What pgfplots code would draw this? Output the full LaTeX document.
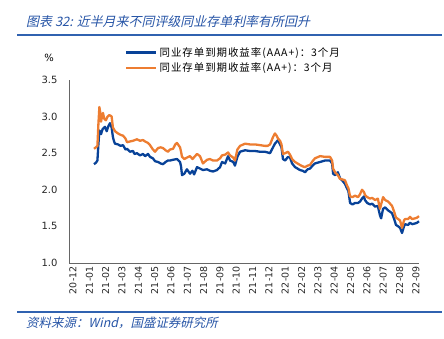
\documentclass[border=0pt]{standalone}
\usepackage{pgfplots}
\pgfplotsset{compat=1.18}
\usepackage{fontspec}
\setmainfont{DejaVu Sans}
\newfontfamily\cjk[LetterSpace=9]{Noto Sans CJK SC}
\newfontfamily\cjkit[FakeSlant=0.22]{Noto Sans CJK SC}
\newfontfamily\tickfont{DejaVu Sans}
\definecolor{sblue}{RGB}{8,66,152}
\definecolor{sorange}{RGB}{237,125,49}
\definecolor{tblue}{RGB}{38,84,166}
\definecolor{rblue}{RGB}{48,98,176}
\pgfplotstableread{
x y
1.47 2.35
1.59 2.37
1.68 2.40
1.74 2.62
1.80 2.81
1.90 2.76
2.00 2.83
2.14 2.86
2.25 2.80
2.35 2.87
2.45 2.91
2.55 2.85
2.63 2.72
2.70 2.66
2.76 2.63
2.94 2.62
3.10 2.60
3.25 2.61
3.40 2.55
3.49 2.56
3.67 2.52
3.86 2.53
3.95 2.49
4.10 2.50
4.29 2.47
4.47 2.49
4.60 2.46
4.78 2.49
4.90 2.45
5.08 2.43
5.21 2.39
5.39 2.38
5.55 2.36
5.70 2.35
5.85 2.38
6.00 2.40
6.12 2.40
6.31 2.41
6.55 2.42
6.74 2.38
6.80 2.32
6.86 2.20
7.00 2.22
7.16 2.28
7.35 2.22
7.50 2.26
7.60 2.21
7.78 2.31
7.96 2.29
8.14 2.27
8.39 2.28
8.57 2.26
8.76 2.25
9.00 2.27
9.19 2.31
9.31 2.38
9.50 2.36
9.68 2.46
9.80 2.40
10.00 2.38
10.10 2.33
10.25 2.45
10.41 2.52
10.72 2.54
11.02 2.53
11.33 2.53
11.63 2.52
11.94 2.52
12.10 2.51
12.25 2.50
12.43 2.58
12.55 2.63
12.74 2.68
12.86 2.62
12.95 2.58
13.04 2.42
13.17 2.40
13.35 2.45
13.47 2.44
13.60 2.36
13.78 2.31
14.08 2.27
14.25 2.26
14.39 2.24
14.55 2.28
14.70 2.29
14.85 2.33
15.00 2.36
15.31 2.38
15.62 2.40
15.92 2.40
16.05 2.36
16.11 2.22
16.23 2.20
16.40 2.24
16.53 2.16
16.70 2.12
16.84 2.08
16.96 2.02
17.05 1.98
17.15 1.82
17.30 1.80
17.45 1.82
17.64 1.82
17.76 1.84
17.88 1.88
18.00 1.91
18.06 1.86
18.20 1.82
18.37 1.80
18.50 1.81
18.68 1.77
18.85 1.78
18.98 1.65
19.05 1.61
19.17 1.74
19.30 1.76
19.47 1.72
19.60 1.70
19.72 1.68
19.85 1.60
19.96 1.52
20.10 1.50
20.21 1.48
20.33 1.41
20.45 1.50
20.51 1.53
20.70 1.52
20.82 1.55
20.95 1.53
21.13 1.54
21.25 1.55
21.37 1.57
}\aaaplus
\pgfplotstableread{
x y
1.47 2.56
1.59 2.58
1.68 2.60
1.74 2.90
1.80 3.13
1.86 3.05
1.90 2.93
1.96 3.00
2.02 3.05
2.10 2.97
2.20 2.95
2.30 3.00
2.40 3.02
2.50 3.01
2.55 3.00
2.63 2.85
2.76 2.80
2.94 2.77
3.10 2.75
3.25 2.74
3.40 2.70
3.49 2.65
3.67 2.66
3.86 2.67
4.10 2.69
4.29 2.67
4.47 2.68
4.60 2.66
4.78 2.64
4.90 2.61
5.08 2.55
5.21 2.52
5.39 2.57
5.55 2.58
5.70 2.57
5.85 2.54
6.00 2.52
6.12 2.55
6.31 2.56
6.45 2.62
6.55 2.64
6.74 2.58
6.80 2.52
6.86 2.45
7.00 2.42
7.16 2.44
7.35 2.46
7.50 2.42
7.78 2.49
7.96 2.46
8.14 2.36
8.39 2.41
8.57 2.42
8.76 2.40
9.00 2.40
9.19 2.43
9.31 2.47
9.50 2.48
9.68 2.51
9.80 2.47
10.00 2.44
10.10 2.40
10.25 2.55
10.41 2.60
10.72 2.63
11.02 2.62
11.33 2.62
11.63 2.61
11.94 2.60
12.10 2.60
12.25 2.62
12.43 2.72
12.55 2.77
12.65 2.74
12.74 2.70
12.86 2.67
12.95 2.62
13.04 2.49
13.17 2.50
13.35 2.52
13.47 2.48
13.60 2.42
13.78 2.38
14.08 2.34
14.25 2.32
14.39 2.31
14.55 2.33
14.70 2.34
14.85 2.39
15.00 2.43
15.31 2.46
15.62 2.45
15.92 2.45
16.05 2.40
16.11 2.29
16.23 2.24
16.40 2.20
16.53 2.15
16.70 2.14
16.84 2.13
16.96 2.06
17.05 2.02
17.15 1.91
17.30 1.90
17.45 1.92
17.64 1.90
17.76 1.94
17.88 2.00
18.00 1.97
18.06 1.93
18.20 1.90
18.37 1.88
18.50 1.89
18.68 1.86
18.85 1.88
18.98 1.74
19.05 1.80
19.17 1.90
19.30 1.86
19.47 1.84
19.60 1.81
19.72 1.78
19.85 1.70
19.96 1.62
20.10 1.60
20.21 1.58
20.33 1.48
20.45 1.58
20.51 1.60
20.70 1.60
20.82 1.63
20.95 1.60
21.13 1.61
21.25 1.62
21.37 1.64
}\aaplus
\begin{document}
\begin{tikzpicture}
\path[use as bounding box] (0,0) rectangle (444bp,339bp);
% title
\node[anchor=west, text=tblue, inner sep=0pt] at (26bp,317bp) {\cjkit\fontsize{13}{15}\selectfont 图表 32: 近半月来不同评级同业存单利率有所回升};
\draw[rblue, line width=1.6bp] (17bp,304bp) -- (442bp,304bp);
% bottom
\draw[rblue, line width=1.2bp] (17bp,27bp) -- (442bp,27bp);
\node[anchor=west, text=tblue, inner sep=0pt] at (26bp,16bp) {\cjkit\fontsize{12.5}{14}\selectfont 资料来源：Wind，国盛证券研究所};
% percent
\node[inner sep=0pt] at (49bp,281bp) {\tickfont\fontsize{10}{12}\selectfont \%};
\begin{axis}[
  at={(69bp,76bp)}, anchor=south west,
  scale only axis, width=350bp, height=183bp,
  xmin=-0.06, xmax=21.37, ymin=1, ymax=3.5,
  axis lines=left, axis line style={gray!80!black, line width=0.8bp, -},
  xtick={0,...,21},
  xticklabels={20-12,21-01,21-02,21-03,21-04,21-05,21-06,21-07,21-08,21-09,21-10,21-11,21-12,22-01,22-02,22-03,22-04,22-05,22-06,22-07,22-08,22-09},
  x tick label style={rotate=90, anchor=east, yshift=-3bp, font=\tickfont\fontsize{9.5}{10}\selectfont, text=black!85},
  ytick={1,1.5,...,3.5},
  y tick label style={xshift=-8bp, font=\tickfont\fontsize{10}{12}\selectfont, text=black!85},
  yticklabel style={/pgf/number format/.cd, fixed, fixed zerofill, precision=1},
  /pgf/number format/assume math mode=true,
  major tick length=0bp,
  ytick style={draw=none}, xtick style={draw=none},
  legend style={draw=none, fill=none, at={(0.16,1.19)}, anchor=north west,
     font=\cjk\fontsize{10.5}{12}\selectfont, row sep=1bp, inner sep=0pt},
  legend cell align=left,
  legend image code/.code={\draw[#1, line width=2.5bp] (0bp,0bp) -- (30bp,0bp);},
  clip=false,
]
\addplot[sblue, line width=2.3bp, line join=round] table[x=x,y=y] {\aaaplus};
\addlegendentry{同业存单到期收益率(AAA+)：3个月}
\addplot[sorange, line width=2.3bp, line join=round] table[x=x,y=y] {\aaplus};
\addlegendentry{同业存单到期收益率(AA+)：3个月}
\end{axis}
\end{tikzpicture}
\end{document}
